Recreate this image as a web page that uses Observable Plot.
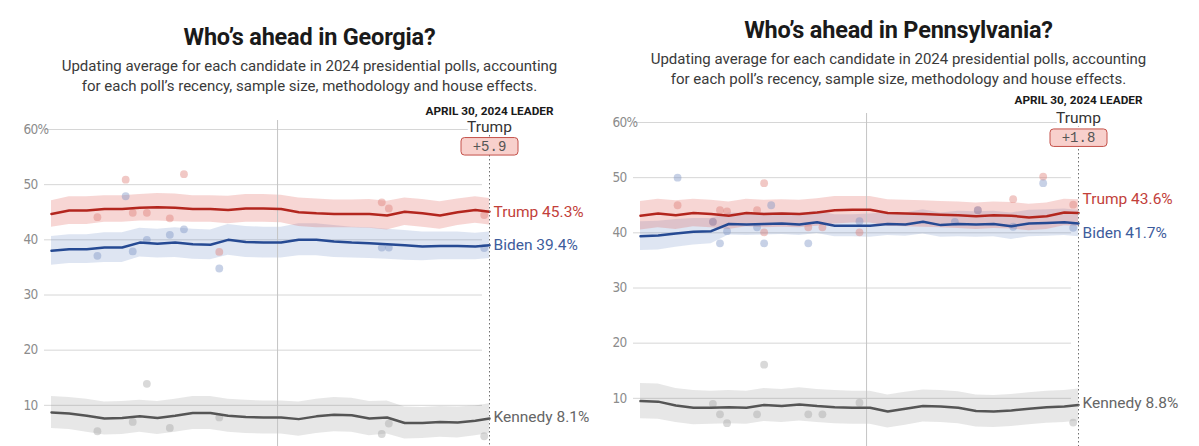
<!DOCTYPE html>
<html>
<head>
<meta charset="utf-8">
<script src="https://cdn.jsdelivr.net/npm/d3@7"></script>
<script src="https://cdn.jsdelivr.net/npm/@observablehq/plot@0.6"></script>
<style>
html, body { margin: 0; padding: 0; background: #fff; overflow: hidden; width: 1199px; height: 446px; }
.panel { position: absolute; width: 599px; height: 470px; }
.title { position: absolute; left: 0; width: 599px; top: 23px; text-align: center; font-family: Roboto, "Noto Sans", sans-serif; font-weight: 700; font-size: 23.5px; line-height: 28px; color: #1a1a1a; letter-spacing: -0.2px; }
.sub { position: absolute; left: 0; width: 599px; top: 57px; text-align: center; font-family: Roboto, "Noto Sans", sans-serif; font-size: 15px; line-height: 19.5px; color: #3a3a3a; }
.chart { position: absolute; left: 0; top: 96px; }
g[aria-label="y-axis tick label"] text { letter-spacing: -0.7px; }
</style>
</head>
<body>
<div class="panel" id="ga" style="left:10px; top:0px;">
  <div class="title">Who’s ahead in Georgia?</div>
  <div class="sub">Updating average for each candidate in 2024 presidential polls, accounting<br>for each poll’s recency, sample size, methodology and house effects.</div>
  <div class="chart"></div>
</div>
<div class="panel" id="pa" style="left:599px; top:-7px;">
  <div class="title">Who’s ahead in Pennsylvania?</div>
  <div class="sub">Updating average for each candidate in 2024 presidential polls, accounting<br>for each poll’s recency, sample size, methodology and house effects.</div>
  <div class="chart"></div>
</div>
<script>
// ---------- shared ----------
const candidates = ["Trump", "Biden", "Kennedy"];
const yTicks = [10, 20, 30, 40, 50, 60];
const leaderHeading = "APRIL 30, 2024 LEADER";
const jan1 = "2024-01-01";
const lineDates = ["2023-08-26","2023-09-05","2023-09-15","2023-09-25","2023-10-05","2023-10-15","2023-10-25","2023-11-04","2023-11-14","2023-11-24","2023-12-04","2023-12-14","2023-12-24","2024-01-03","2024-01-13","2024-01-23","2024-02-02","2024-02-12","2024-02-22","2024-03-03","2024-03-13","2024-03-23","2024-04-02","2024-04-12","2024-04-22","2024-04-30"];

// ---------- Georgia ----------
const gaTrump   = [44.7,45.3,45.3,45.6,45.6,45.8,45.9,45.8,45.6,45.6,45.4,45.7,45.7,45.6,45.0,44.8,44.7,44.7,44.7,44.4,45.1,44.8,44.4,45.0,45.4,45.1];
const gaBiden   = [38.0,38.3,38.3,38.6,38.6,39.5,39.3,39.5,39.2,39.1,40.0,39.6,39.5,39.5,40.0,40.0,39.7,39.5,39.4,39.2,39.0,38.8,38.9,38.9,38.8,39.0];
const gaKennedy = [8.7,8.5,8.1,7.6,7.7,8.0,7.7,8.1,8.6,8.6,8.1,7.9,7.8,7.8,7.5,8.0,8.3,8.2,7.6,7.8,6.8,6.8,7.0,6.9,7.2,7.6];
const gaMoeTrump   = [2.4,2.5,2.5,2.4,2.4,2.4,2.5,2.5,2.4,2.4,2.5,2.5,2.5,2.5,2.6,2.6,2.5,2.5,2.6,2.6,2.5,2.5,2.5,2.4,2.4,2.4];
const gaMoeBiden   = [2.6,2.6,2.6,2.7,2.7,2.6,2.6,2.7,2.7,2.7,2.8,2.8,2.8,2.8,2.9,2.9,2.9,2.8,2.8,2.7,2.7,2.6,2.5,2.5,2.4,2.4];
const gaMoeKennedy = [2.9,2.9,3.0,3.0,3.0,2.9,3.0,3.0,3.0,3.0,3.0,3.0,3.0,3.0,3.1,3.1,3.1,3.1,3.1,3.0,2.9,2.8,2.8,2.8,2.7,2.7];
const gaTrumpPollDates = ["2023-09-21","2023-10-07","2023-10-11","2023-10-19","2023-11-01","2023-11-09","2023-11-29","2024-02-29","2024-03-04","2024-04-27"];
const gaTrumpPolls     = [44.1,50.9,44.9,44.9,43.9,51.9,37.8,46.8,45.7,44.5];
const gaBidenPollDates = ["2023-09-21","2023-10-07","2023-10-11","2023-10-19","2023-11-01","2023-11-09","2023-11-29","2024-02-29","2024-03-04","2024-04-27"];
const gaBidenPolls     = [37.1,47.9,37.9,40.0,40.9,41.9,34.8,38.6,38.6,38.5];
const gaKennedyPollDates = ["2023-09-21","2023-10-11","2023-10-19","2023-11-01","2023-11-29","2024-02-29","2024-03-04","2024-04-27"];
const gaKennedyPolls     = [5.3,7.0,13.9,5.9,7.8,4.8,6.7,4.4];
const gaLatest = [45.3, 39.4, 8.1];
const gaLeader = "Trump";
const gaLead = "+5.9";

// ---------- Pennsylvania ----------
const paTrump   = [43.1,43.5,43.2,43.6,43.4,43.1,43.6,43.4,43.5,43.4,43.7,44.1,44.2,44.2,43.6,43.5,43.4,43.3,43.2,43.0,43.2,43.1,42.8,43.0,43.7,43.6];
const paBiden   = [39.4,39.5,39.9,40.2,40.3,41.6,41.5,41.6,41.7,41.5,41.9,41.3,41.3,41.3,41.6,41.5,42.0,41.4,41.6,41.5,41.6,41.2,41.7,41.8,41.9,41.7];
const paKennedy = [9.5,9.4,8.7,8.3,8.3,8.4,8.3,8.8,8.6,8.9,8.6,8.4,8.3,8.3,7.6,8.1,8.6,8.5,8.3,7.7,7.6,7.8,8.1,8.4,8.5,8.8];
const paMoeTrump   = [2.6,2.6,2.6,2.5,2.5,2.5,2.5,2.5,2.5,2.5,2.5,2.5,2.4,2.4,2.4,2.4,2.4,2.4,2.4,2.4,2.4,2.4,2.4,2.4,2.4,2.4];
const paMoeBiden   = [2.6,2.6,2.5,2.4,2.3,2.0,2.0,2.0,2.0,2.0,2.0,2.0,2.0,2.1,2.1,2.1,2.2,2.2,2.3,2.3,2.3,2.4,2.4,2.4,2.4,2.4];
const paMoeKennedy = [3.2,3.2,3.1,3.1,3.0,3.0,3.0,3.0,3.0,3.0,3.0,3.0,3.0,3.0,3.0,3.0,2.9,2.9,2.9,2.9,2.9,2.9,2.9,2.9,2.9,2.9];
const paTrumpPollDates = ["2023-09-16","2023-10-06","2023-10-10","2023-10-14","2023-10-31","2023-11-04","2023-11-04","2023-11-29","2023-12-07","2023-12-28","2024-03-04","2024-03-24","2024-04-10","2024-04-27"];
const paTrumpPolls     = [45.0,42.0,44.1,43.9,44.1,49.0,40.1,41.0,41.0,40.1,44.1,46.1,50.2,45.1];
const paBidenPollDates = ["2023-09-16","2023-10-06","2023-10-10","2023-10-14","2023-10-31","2023-11-04","2023-11-08","2023-11-29","2023-12-28","2024-02-20","2024-03-04","2024-03-24","2024-04-10","2024-04-27"];
const paBidenPolls     = [50.0,42.0,38.1,40.3,41.0,38.1,45.0,38.1,42.1,42.0,44.1,41.1,49.0,40.9];
const paKennedyPollDates = ["2023-10-06","2023-10-10","2023-10-14","2023-10-31","2023-11-04","2023-11-29","2023-12-07","2023-12-28","2024-04-27"];
const paKennedyPolls     = [9.0,7.1,5.5,7.1,16.1,7.1,7.1,9.2,5.6];
const paLatest = [43.6, 41.7, 8.8];
const paLeader = "Trump";
const paLead = "+1.8";

// ---------- styling ----------
const styles = {
  Trump:   {line: "#b3261e", band: "#e2625a", bandOpacity: 0.26, dot: "#de7c74", label: "#c2403a"},
  Biden:   {line: "#264a93", band: "#3b63b0", bandOpacity: 0.17, dot: "#7a91c4", label: "#3d5c9c"},
  Kennedy: {line: "#555555", band: "#888888", bandOpacity: 0.2,  dot: "#a5a5a5", label: "#666666"}
};
const parse = d3.utcParse("%Y-%m-%d");
const sans = "Roboto, 'Noto Sans', sans-serif";

function roundRect(w, h, r) {
  return {
    draw(ctx) {
      const x0 = -w / 2, y0 = -h / 2, x1 = w / 2, y1 = h / 2;
      ctx.moveTo(x0 + r, y0);
      ctx.lineTo(x1 - r, y0); ctx.arcTo(x1, y0, x1, y0 + r, r);
      ctx.lineTo(x1, y1 - r); ctx.arcTo(x1, y1, x1 - r, y1, r);
      ctx.lineTo(x0 + r, y1); ctx.arcTo(x0, y1, x0, y1 - r, r);
      ctx.lineTo(x0, y0 + r); ctx.arcTo(x0, y0, x0 + r, y0, r);
      ctx.closePath();
    }
  };
}

function makePanel(cfg) {
  const dates = lineDates.map(parse);
  const start = dates[0], end = dates[dates.length - 1];
  const series = candidates.map((c, k) => ({
    name: c,
    rows: dates.map((d, i) => ({date: d, v: cfg.values[k][i], lo: cfg.values[k][i] - cfg.moe[k][i], hi: cfg.values[k][i] + cfg.moe[k][i]})),
    polls: cfg.pollDates[k].map((d, i) => ({date: parse(d), v: cfg.polls[k][i]})),
    latest: cfg.latest[k]
  }));
  const marks = [
    Plot.gridY(yTicks, {stroke: "#d6d6d6", strokeOpacity: 1, strokeWidth: 1}),
    Plot.axisY(yTicks, {tickSize: 0, tickPadding: 0, textAnchor: "start", dx: -21,
      tickFormat: d => d === 60 ? "60%" : String(d),
      fill: "#8c8c8c", fontSize: 13.5, fontFamily: "'DejaVu Sans Condensed', 'Liberation Sans Narrow', Roboto, sans-serif"}),
  ];
  // bands
  for (const s of [...series].reverse()) {
    const st = styles[s.name];
    marks.push(Plot.areaY(s.rows, {x: "date", y1: "lo", y2: "hi", fill: st.band, fillOpacity: st.bandOpacity}));
  }
  marks.push(Plot.ruleX([parse(jan1)], {stroke: "#c4c4c4", strokeWidth: 1, insetTop: -9}));
  // poll dots
  for (const s of series) {
    const st = styles[s.name];
    marks.push(Plot.dot(s.polls, {x: "date", y: "v", r: 3.9, fill: st.dot, fillOpacity: 0.42}));
  }
  // averages
  for (const s of [...series].reverse()) {
    const st = styles[s.name];
    marks.push(Plot.line(s.rows, {x: "date", y: "v", stroke: st.line, strokeWidth: 2.5, strokeLinejoin: "round"}));
  }
  // end rule
  marks.push(Plot.ruleX([end], {stroke: "#6f6f6f", strokeWidth: 1, strokeDasharray: "1.5,2.5", insetTop: cfg.endRuleInset}));
  // end labels
  series.forEach((s, k) => {
    const st = styles[s.name];
    const last = s.rows[s.rows.length - 1];
    marks.push(Plot.text([last], {x: "date", y: "v", text: () => `${s.name} ${s.latest}%`, textAnchor: "start", dx: 4, dy: cfg.labelDy[k],
      fill: st.label, fontSize: 15.5, fontFamily: sans}));
  });
  // leader header
  marks.push(Plot.text([end], {x: d => d, frameAnchor: "top", lineAnchor: "middle", text: () => leaderHeading, dy: cfg.headDy, fontWeight: 700, fontSize: 11.8, fontFamily: sans, fill: "#1a1a1a"}));
  marks.push(Plot.text([end], {x: d => d, frameAnchor: "top", lineAnchor: "middle", text: () => cfg.leader, dy: cfg.nameDy, fontSize: 15.5, fontFamily: sans, fill: "#333", stroke: "white", strokeWidth: 6}));
  marks.push(Plot.dot([end], {x: d => d, frameAnchor: "top", dy: cfg.boxDy, r: 5, symbol: roundRect(57, 17.5, 3.5), fill: "#f8d0cc", stroke: "#c4514a", strokeWidth: 1}));
  marks.push(Plot.text([end], {x: d => d, frameAnchor: "top", lineAnchor: "middle", dy: cfg.boxDy, text: () => cfg.lead, fontSize: 14, fontFamily: "'Liberation Mono', 'DejaVu Sans Mono', monospace", fill: "#555"}));

  return Plot.plot({
    width: 599,
    height: 394,
    marginLeft: 34,
    marginRight: 127,
    marginTop: 33,
    marginBottom: 30,
    x: {type: "utc", domain: [start, end], insetLeft: 7, insetRight: -7, axis: null},
    y: {domain: [0, 60], axis: null},
    style: {background: "transparent", overflow: "visible"},
    marks
  });
}

document.querySelector("#ga .chart").append(makePanel({
  values: [gaTrump, gaBiden, gaKennedy],
  moe: [gaMoeTrump, gaMoeBiden, gaMoeKennedy],
  pollDates: [gaTrumpPollDates, gaBidenPollDates, gaKennedyPollDates],
  polls: [gaTrumpPolls, gaBidenPolls, gaKennedyPolls],
  latest: gaLatest, leader: gaLeader, lead: gaLead,
  labelDy: [0, 0, -2],
  headDy: -18.7, nameDy: -2.7, boxDy: 16.8, endRuleInset: 6
}));
document.querySelector("#pa .chart").append(makePanel({
  values: [paTrump, paBiden, paKennedy],
  moe: [paMoeTrump, paMoeBiden, paMoeKennedy],
  pollDates: [paTrumpPollDates, paBidenPollDates, paKennedyPollDates],
  polls: [paTrumpPolls, paBidenPolls, paKennedyPolls],
  latest: paLatest, leader: paLeader, lead: paLead,
  labelDy: [-14, 10, -2],
  headDy: -22.3, nameDy: -4.6, boxDy: 15.2, endRuleInset: 3
}));
</script>
</body>
</html>
